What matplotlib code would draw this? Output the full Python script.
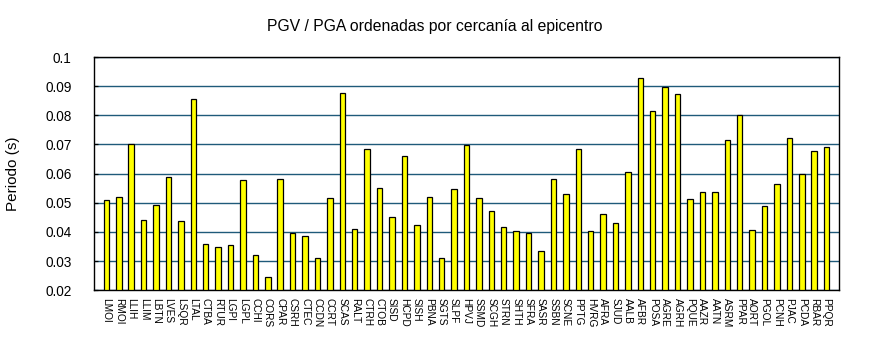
import matplotlib
matplotlib.use("Agg")
import matplotlib.pyplot as plt
import numpy as np

plt.rcParams['font.family'] = ['Liberation Sans', 'DejaVu Sans']

stations = ["LMOI", "RMOI", "LLIH", "LLIM", "LBTN", "LVES", "LSQR", "LTAL", "CTBA", "RTUR",
            "LGPI", "LGPL", "CCHI", "CORS", "CPAR", "CSRH", "CTEC", "CCDN", "CCRT", "SCAS",
            "RALT", "CTRH", "CTOB", "SISD", "HCPD", "SISH", "PBNA", "SGTS", "SLPF", "HPVJ",
            "SSMD", "SCGH", "STRN", "SHTH", "SFRA", "SASR", "SSBN", "SCNE", "PPTG", "HVRG",
            "AFRA", "SJUD", "AALB", "AFBR", "POSA", "AGRE", "AGRH", "PQUE", "AAZR", "AATN",
            "ASRM", "PPAR", "AORT", "PGOL", "PCNH", "PJAC", "PCDA", "RBAR", "PPQR"]

periodo = [0.0509, 0.0521, 0.0700, 0.0441, 0.0493, 0.0588, 0.0438, 0.0855, 0.0359, 0.0349,
           0.0355, 0.0577, 0.0321, 0.0245, 0.0581, 0.0397, 0.0386, 0.0310, 0.0517, 0.0876,
           0.0410, 0.0686, 0.0550, 0.0452, 0.0662, 0.0424, 0.0521, 0.0310, 0.0547, 0.0697,
           0.0517, 0.0473, 0.0417, 0.0403, 0.0397, 0.0334, 0.0583, 0.0530, 0.0686, 0.0403,
           0.0462, 0.0431, 0.0607, 0.0928, 0.0814, 0.0897, 0.0872, 0.0513, 0.0537, 0.0537,
           0.0714, 0.0800, 0.0407, 0.0490, 0.0563, 0.0721, 0.0597, 0.0679, 0.0690]

yticks = [0.02, 0.03, 0.04, 0.05, 0.06, 0.07, 0.08, 0.09, 0.1]
ytick_labels = ["0.02", "0.03", "0.04", "0.05", "0.06", "0.07", "0.08", "0.09", "0.1"]

fig = plt.figure(figsize=(8.7, 3.5), dpi=100)
ax = fig.add_axes([0.108, 0.171, 0.8564, 0.666])

x = np.arange(1, len(stations) + 1)
y0 = 0.02
ax.bar(x, np.array(periodo) - y0, bottom=y0, width=0.44, color="#FFFF00",
       edgecolor="black", linewidth=0.9, zorder=3)

ax.set_xlim(0, len(stations) + 1)
ax.set_ylim(0.02, 0.1)
ax.set_yticks(yticks)
ax.set_yticklabels(ytick_labels, fontsize=9.8)
ax.yaxis.grid(True, color="#1F5A7A", linewidth=1.0, zorder=1)
ax.tick_params(axis="y", direction="in", length=3, width=0.9, color="black", pad=16)
ax.set_xticks(x)
ax.set_xticklabels(stations, rotation=-90, fontsize=7.3)
ax.tick_params(axis="x", length=0, pad=6)

for s in ax.spines.values():
    s.set_linewidth(1.0)
    s.set_color("black")

ax.set_ylabel("Periodo (s)", fontsize=11, labelpad=18)
fig.suptitle("PGV / PGA ordenadas por cercanía al epicentro", fontsize=11.3, y=0.945)

fig.savefig("out.png", dpi=100)
